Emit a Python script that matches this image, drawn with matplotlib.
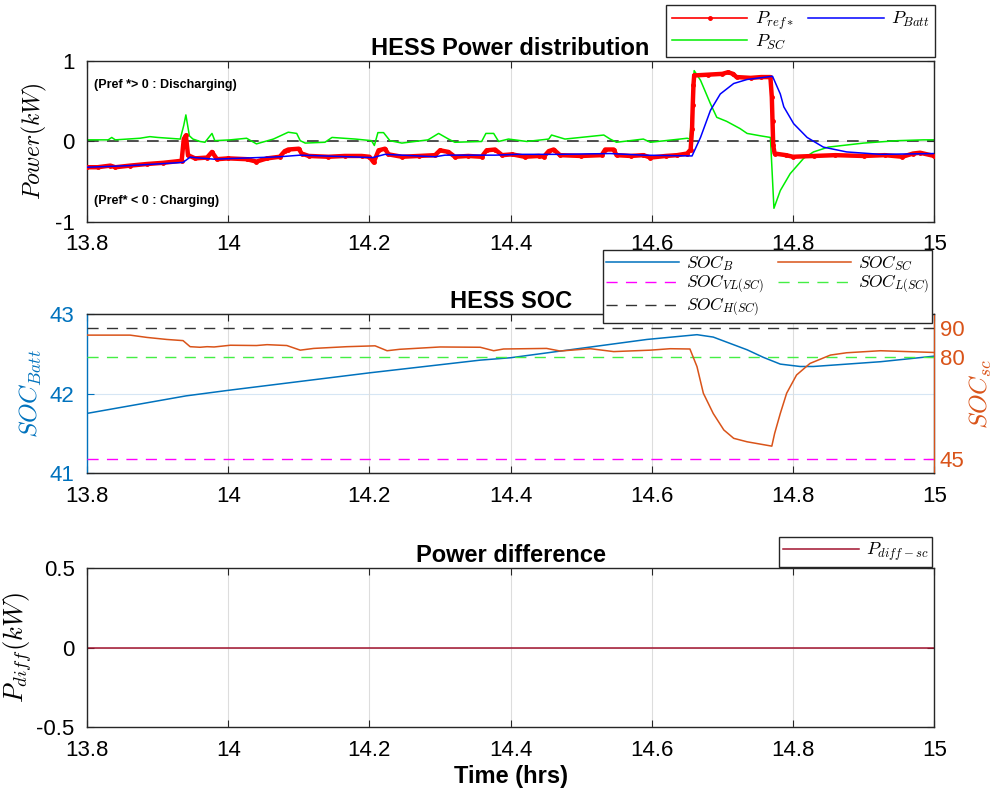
import numpy as np
import matplotlib
matplotlib.use('Agg')
import matplotlib.pyplot as plt
from matplotlib.lines import Line2D

plt.rcParams['font.family'] = ['Liberation Sans', 'DejaVu Sans']
plt.rcParams['mathtext.fontset'] = 'cm'
plt.rcParams['axes.unicode_minus'] = False

# ---- HESS power distribution (kW) ----
t_ref = [13.800, 13.815, 13.833, 13.840, 13.861, 13.885, 13.908, 13.934, 13.937, 13.940,
         13.943, 13.953, 13.970, 13.977, 13.984, 14.000, 14.026, 14.040, 14.055, 14.073,
         14.080, 14.085, 14.100, 14.104, 14.114, 14.142, 14.165, 14.189, 14.200, 14.206,
         14.213, 14.222, 14.227, 14.246, 14.270, 14.293, 14.300, 14.312, 14.321, 14.340,
         14.359, 14.366, 14.378, 14.388, 14.402, 14.420, 14.440, 14.447, 14.454, 14.461,
         14.470, 14.500, 14.529, 14.534, 14.546, 14.550, 14.570, 14.588, 14.598, 14.620,
         14.636, 14.650, 14.655, 14.657, 14.658, 14.659, 14.660, 14.680, 14.700, 14.708,
         14.715, 14.720, 14.740, 14.755, 14.768, 14.770, 14.771, 14.772, 14.774, 14.790,
         14.800, 14.830, 14.860, 14.900, 14.930, 14.955, 14.970, 14.980, 15.000]
p_ref = [-0.32, -0.32, -0.30, -0.32, -0.30, -0.28, -0.265, -0.24, 0.03, 0.075,
         -0.17, -0.21, -0.20, -0.13, -0.22, -0.21, -0.22, -0.25, -0.21, -0.19,
         -0.12, -0.10, -0.09, -0.15, -0.18, -0.19, -0.18, -0.18, -0.19, -0.26,
         -0.11, -0.09, -0.16, -0.19, -0.18, -0.17, -0.11, -0.13, -0.19, -0.18,
         -0.19, -0.11, -0.10, -0.17, -0.16, -0.19, -0.18, -0.19, -0.12, -0.10,
         -0.17, -0.18, -0.17, -0.10, -0.10, -0.17, -0.18, -0.17, -0.20, -0.18,
         -0.17, -0.15, -0.10, 0.15, 0.45, 0.70, 0.82, 0.83, 0.84, 0.86,
         0.84, 0.80, 0.79, 0.80, 0.80, 0.55, 0.25, -0.05, -0.15, -0.17,
         -0.19, -0.18, -0.17, -0.18, -0.17, -0.19, -0.15, -0.14, -0.18]

t_batt = [13.800, 13.860, 13.936, 13.946, 13.980, 14.073, 14.102, 14.205, 14.222, 14.293,
          14.307, 14.378, 14.410, 14.470, 14.541, 14.588, 14.657, 14.669, 14.683, 14.697,
          14.716, 14.735, 14.771, 14.782, 14.787, 14.801, 14.820, 14.843, 14.876, 14.924,
          15.000]
p_batt = [-0.32, -0.30, -0.26, -0.195, -0.22, -0.19, -0.17, -0.20, -0.16, -0.19,
          -0.17, -0.17, -0.16, -0.16, -0.15, -0.17, -0.18, 0.05, 0.385, 0.59,
          0.72, 0.77, 0.81, 0.59, 0.43, 0.22, 0.05, -0.07, -0.13, -0.16,
          -0.15]

t_sc = [13.800, 13.830, 13.835, 13.840, 13.875, 13.889, 13.900, 13.932, 13.937, 13.940,
        13.945, 13.950, 13.960, 13.967, 13.977, 13.981, 14.003, 14.026, 14.040, 14.064,
        14.085, 14.097, 14.102, 14.109, 14.137, 14.147, 14.180, 14.203, 14.207, 14.212,
        14.220, 14.229, 14.246, 14.283, 14.298, 14.312, 14.321, 14.359, 14.365, 14.376,
        14.383, 14.397, 14.423, 14.454, 14.458, 14.477, 14.532, 14.541, 14.550, 14.588,
        14.598, 14.640, 14.650, 14.654, 14.657, 14.660, 14.669, 14.683, 14.692, 14.706,
        14.725, 14.735, 14.754, 14.768, 14.773, 14.782, 14.796, 14.815, 14.829, 14.850,
        14.900, 14.948, 14.985, 15.000]
p_sc = [0.02, 0.02, 0.05, 0.02, 0.04, 0.06, 0.05, 0.03, 0.20, 0.33,
        0.07, 0.03, 0.00, -0.01, 0.10, 0.01, 0.02, 0.04, -0.03, 0.03,
        0.115, 0.10, 0.01, -0.02, -0.01, 0.05, 0.03, 0.01, -0.05, 0.11,
        0.11, 0.01, -0.02, 0.02, 0.10, 0.03, -0.01, 0.00, 0.10, 0.10,
        0.00, 0.03, 0.00, 0.03, 0.08, 0.03, 0.08, 0.03, -0.01, 0.03,
        -0.01, 0.03, 0.04, 0.03, 0.40, 0.88, 0.76, 0.47, 0.30, 0.25,
        0.16, 0.10, 0.07, 0.05, -0.83, -0.61, -0.40, -0.21, -0.13, -0.07,
        -0.02, 0.01, 0.02, 0.02]

# ---- HESS SOC ----
t_socb = [13.800, 13.940, 14.000, 14.200, 14.357, 14.400, 14.593, 14.664, 14.687, 14.711,
          14.735, 14.758, 14.782, 14.810, 14.829, 14.924, 15.000]
soc_b = [41.75, 41.97, 42.04, 42.26, 42.42, 42.45, 42.68, 42.74, 42.71, 42.63,
         42.55, 42.455, 42.37, 42.34, 42.34, 42.40, 42.47]

t_socsc = [13.800, 13.861, 13.885, 13.913, 13.936, 13.946, 13.960, 13.970, 13.980, 14.003,
           14.040, 14.055, 14.083, 14.102, 14.121, 14.168, 14.208, 14.225, 14.243, 14.300,
           14.357, 14.376, 14.390, 14.451, 14.470, 14.513, 14.546, 14.598, 14.626, 14.654,
           14.664, 14.673, 14.687, 14.702, 14.716, 14.735, 14.770, 14.774, 14.782, 14.791,
           14.805, 14.824, 14.853, 14.876, 14.924, 15.000]
soc_sc = [87.7, 87.7, 86.9, 86.2, 85.8, 83.7, 83.5, 83.7, 83.6, 84.2,
          84.1, 84.4, 84.1, 82.5, 83.1, 83.7, 84.0, 82.3, 82.8, 83.6,
          83.5, 82.3, 82.9, 83.1, 82.2, 83.0, 82.0, 82.5, 83.0, 82.9,
          76.8, 67.6, 60.6, 54.9, 52.0, 50.8, 49.3, 53.7, 60.6, 67.6,
          73.9, 77.9, 80.8, 81.6, 82.3, 81.7]
soc_h, soc_l, soc_vl = 90, 80, 45

# ---- power difference ----
t_diff = [13.8, 15.0]
p_diff = [0.0, 0.0]

xticks = [13.8, 14, 14.2, 14.4, 14.6, 14.8, 15]
xticklabels = ['13.8', '14', '14.2', '14.4', '14.6', '14.8', '15']

c_blue = '#0072BD'
c_orange = '#D95319'
c_dred = '#A2142F'
spine = '#262626'
tick_fs = 16
title_fs = 17

fig = plt.figure(figsize=(9.97, 7.97), dpi=100)
ax1 = fig.add_axes([0.0873, 0.7215, 0.8497, 0.2020])
ax2 = fig.add_axes([0.0873, 0.4065, 0.8497, 0.1995])
ax3 = fig.add_axes([0.0873, 0.0878, 0.8497, 0.1995])

leg_kw = dict(fontsize=13, frameon=True, fancybox=False, edgecolor=spine, framealpha=1,
              handlelength=4.2, handletextpad=0.4, columnspacing=0.8,
              borderpad=0.3, labelspacing=0.0, borderaxespad=0)


def style(ax):
    ax.set_xlim(13.8, 15)
    ax.set_xticks(xticks)
    ax.set_xticklabels(xticklabels)
    ax.tick_params(direction='in', top=True, right=True, labelsize=tick_fs, length=5,
                   color=spine, pad=9)
    ax.grid(True, color='#dddddd', linewidth=0.8)
    ax.set_axisbelow(True)
    for s in ax.spines.values():
        s.set_color(spine)
        s.set_linewidth(1.0)


# top plot
style(ax1)
ax1.axhline(0, color='#333333', linestyle=(0, (7, 5)), linewidth=1.2, zorder=1)
ax1.plot(t_ref, p_ref, color='red', linewidth=3.2, marker='.', markersize=5, zorder=3)
ax1.plot(t_batt, p_batt, color='blue', linewidth=1.1, zorder=4)
ax1.plot(t_sc, p_sc, color='#00ee00', linewidth=1.1, zorder=2)
ax1.set_ylim(-1, 1)
ax1.set_yticks([-1, 0, 1])
ax1.set_ylabel(r'$Power(kW)$', fontsize=17, labelpad=4)
ax1.set_title('HESS Power distribution', fontsize=title_fs, fontweight='bold', pad=4)
ax1.text(13.81, 0.70, '(Pref *> 0 : Discharging)', fontsize=9, fontweight='bold', va='center')
ax1.text(13.81, -0.74, '(Pref* < 0 : Charging)', fontsize=9, fontweight='bold', va='center')
h_ref = Line2D([], [], color='red', linewidth=1.2, marker='.', markersize=5, markevery=[1],
               label=r'$P_{ref*}$')
h_sc = Line2D([], [], color='#00ee00', linewidth=1.1, label=r'$P_{SC}$')
h_batt = Line2D([], [], color='blue', linewidth=1.1, label=r'$P_{Batt}$')
leg1 = ax1.legend(handles=[h_ref, h_sc, h_batt], ncol=2, loc='upper right',
                  bbox_to_anchor=(0.938, 0.994), bbox_transform=fig.transFigure, **leg_kw)
leg1.get_frame().set_linewidth(1.0)

# middle plot
style(ax2)
ax2.tick_params(right=False)
ax2.grid(False)
ax2.xaxis.grid(True, color='#dddddd', linewidth=0.8)
ax2.axhline(42, color='#d6e6f4', linewidth=0.8, zorder=0)
ax2.plot(t_socb, soc_b, color=c_blue, linewidth=1.1, zorder=5)
ax2.set_ylim(41, 43)
ax2.set_yticks([41, 42, 43])
ax2.tick_params(axis='y', colors=c_blue)
ax2.spines['left'].set_color(c_blue)
ax2.set_ylabel(r'$SOC_{Batt}$', fontsize=18, color=c_blue, labelpad=4)
ax2.set_title('HESS SOC', fontsize=title_fs, fontweight='bold', pad=4)

ax2r = ax2.twinx()
ax2r.set_ylim(40, 95)
ax2r.set_yticks([45, 80, 90])
ax2r.tick_params(axis='y', direction='in', colors=c_orange, labelsize=tick_fs, length=5, pad=4)
ax2r.spines['right'].set_color(c_orange)
ax2r.spines['left'].set_visible(False)
ax2r.spines['top'].set_color(spine)
ax2r.spines['bottom'].set_color(spine)
l_vl = ax2r.axhline(soc_vl, color='#ff00ff', linestyle=(0, (8, 6)), linewidth=1.0)
l_l = ax2r.axhline(soc_l, color='#44ee44', linestyle=(0, (8, 6)), linewidth=1.0)
l_h = ax2r.axhline(soc_h, color='#333333', linestyle=(0, (8, 6)), linewidth=1.0)
l_sc, = ax2r.plot(t_socsc, soc_sc, color=c_orange, linewidth=1.1)
ax2r.set_ylabel(r'$SOC_{sc}$', fontsize=18, color=c_orange, labelpad=2)
h_b = Line2D([], [], color=c_blue, linewidth=1.1, label=r'$SOC_B$')
l_sc.set_label(r'$SOC_{SC}$')
l_vl.set_label(r'$SOC_{VL(SC)}$')
l_l.set_label(r'$SOC_{L(SC)}$')
l_h.set_label(r'$SOC_{H(SC)}$')
leg2_kw = dict(leg_kw, fontsize=12.5, labelspacing=-0.02, borderpad=0.2)
leg2 = ax2r.legend(handles=[h_b, l_vl, l_h, l_sc, l_l], ncol=2, loc='upper right',
                   bbox_to_anchor=(0.935, 0.6863), bbox_transform=fig.transFigure, **leg2_kw)
leg2.get_frame().set_linewidth(1.0)

# bottom plot
style(ax3)
ax3.plot(t_diff, p_diff, color=c_dred, linewidth=1.1, label=r'$P_{diff-sc}$')
ax3.set_ylim(-0.5, 0.5)
ax3.set_yticks([-0.5, 0, 0.5])
ax3.set_yticklabels(['-0.5', '0', '0.5'])
ax3.set_ylabel(r'$P_{diff}(kW)$', fontsize=19, labelpad=2)
ax3.set_title('Power difference', fontsize=title_fs, fontweight='bold', pad=4)
ax3.set_xlabel('Time (hrs)', fontsize=title_fs, fontweight='bold', labelpad=3)
leg3 = ax3.legend(loc='upper right', bbox_to_anchor=(0.935, 0.3262),
                  bbox_transform=fig.transFigure, **dict(leg_kw, borderpad=0.2))
leg3.get_frame().set_linewidth(1.0)

fig.savefig('out.png', dpi=100)
